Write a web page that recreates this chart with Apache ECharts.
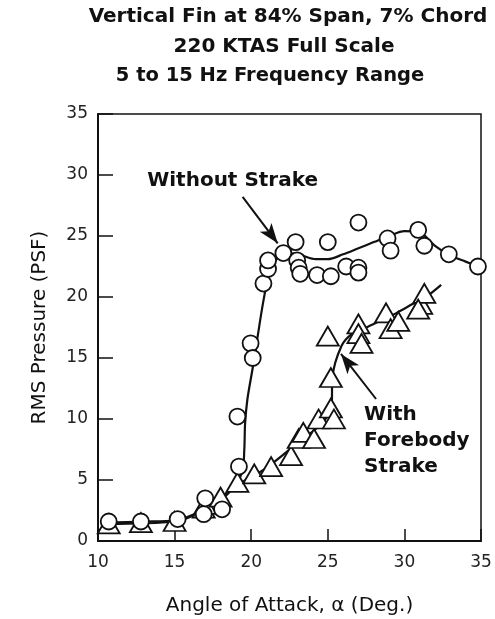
<!DOCTYPE html>
<html><head><meta charset="utf-8">
<script src="https://cdn.jsdelivr.net/npm/echarts@6/dist/echarts.min.js"></script>
<style>html,body{margin:0;padding:0;background:#fff}#c{width:495px;height:619px}</style>
</head><body><div id="c"></div>
<script>
const titleLines = ['Vertical Fin at 84% Span, 7% Chord', '220 KTAS Full Scale', '5 to 15 Hz Frequency Range'];
const xAxisName = 'Angle of Attack, \u03b1 (Deg.)';
const yAxisName = 'RMS Pressure (PSF)';
const xRange = [10, 35, 5];
const yRange = [0, 35, 5];

// Without strake: measured points (angle, RMS pressure)
const withoutStrakePts = [
  [10.7,1.6],[12.8,1.6],[15.2,1.8],[16.9,2.2],[17.0,3.5],[18.1,2.6],[19.2,6.1],[19.1,10.2],
  [19.96,16.2],[20.1,15.0],[20.8,21.1],[21.1,22.3],[21.1,23.0],[22.1,23.6],[22.9,24.5],
  [23.0,23.0],[23.1,22.4],[23.2,21.9],[24.3,21.8],[25.0,24.5],[25.2,21.7],[26.2,22.5],
  [27.0,22.4],[27.0,22.0],[27.0,26.1],[28.9,24.8],[29.1,23.8],[30.9,25.5],[31.3,24.2],
  [32.9,23.5],[34.8,22.5]
];
// Without strake: faired curve
const withoutStrakeCurve = [
  [10.5,1.5],[13,1.6],[15,1.7],[17,2.6],[18.5,3.9],[19.4,5.6],[19.55,7.5],[19.6,9.6],
  [19.75,11.6],[20.1,14.2],[20.4,16.6],[20.8,19.7],[21.2,22.0],[21.8,23.3],[22.5,23.6],
  [23.3,23.4],[24.2,23.1],[25.0,23.1],[26.0,23.5],[27.0,24.0],[28.0,24.5],[29.0,25.0],
  [30.0,25.4],[31.0,25.3],[32.0,24.2],[33.0,23.4],[34.0,22.9],[34.8,22.5]
];
// With forebody strake: measured points
const withStrakePts = [
  [10.7,1.4],[12.8,1.5],[15.0,1.6],[16.9,2.7],[17.0,3.0],[18.0,3.6],[19.1,4.8],[20.2,5.5],
  [21.3,6.1],[22.6,7.0],[23.1,8.4],[23.4,8.9],[24.1,8.4],[24.4,10.0],[25.2,10.9],[25.4,10.0],
  [25.2,13.4],[25.0,16.8],[27.0,17.8],[27.0,17.0],[27.2,16.2],[28.8,18.7],[29.1,17.4],
  [29.6,18.0],[31.1,19.4],[31.3,20.3],[30.9,19.0]
];
// With forebody strake: faired curve
const withStrakeCurve = [
  [10.5,1.4],[15,1.6],[17,2.6],[19,4.5],[21,6.0],[23,8.0],[24.5,9.5],[25.25,11.0],
  [25.3,13.4],[25.9,16.0],[26.6,17.0],[27.5,17.5],[28.5,18.1],[29.5,18.7],[30.5,19.4],[31.5,20.1],[32.4,21.0]
];
// Annotations (data coordinates)
const labelWithout = {text: 'Without Strake', at: [13.21, 29.5]};
const labelWith = {text: 'With\nForebody\nStrake', at: [27.37, 8.2]};
const arrowWithout = [[19.44, 28.2], [21.73, 24.4]];
const arrowWith = [[28.15, 11.64], [25.86, 15.33]];

const FONT = 'DejaVu Sans';
const INK = '#111';

const chart = echarts.init(document.getElementById('c'), null, {renderer: 'canvas'});
const titleTops = [7, 37, 66];
const titleLefts = [288, 284, 270];
const titleSizes = [20, 20, 19.5];
chart.setOption({
  animation: false,
  backgroundColor: '#fff',
  title: titleLines.map((t, i) => ({
    text: t, left: titleLefts[i], top: titleTops[i], textAlign: 'center', padding: 0,
    textStyle: {fontFamily: FONT, fontWeight: 'bold', fontSize: titleSizes[i], lineHeight: 20, color: INK}
  })),
  grid: {left: 98, right: 14, top: 114, bottom: 78, containLabel: false, outerBoundsMode: 'none',
    show: true, borderColor: INK, borderWidth: 1.5, backgroundColor: 'transparent'},
  xAxis: {
    type: 'value', min: xRange[0], max: xRange[1], interval: xRange[2],
    name: xAxisName, nameLocation: 'middle', nameGap: 55,
    nameTextStyle: {fontFamily: FONT, fontSize: 20, color: INK},
    axisLine: {show: true, lineStyle: {color: INK, width: 2}},
    axisTick: {show: true, inside: true, length: 12, lineStyle: {color: INK, width: 1.5}},
    axisLabel: {fontFamily: FONT, fontSize: 17, color: '#222', margin: 13},
    splitLine: {show: false}
  },
  yAxis: {
    type: 'value', min: yRange[0], max: yRange[1], interval: yRange[2],
    name: yAxisName, nameLocation: 'middle', nameGap: 48, nameRotate: 90,
    nameTextStyle: {fontFamily: FONT, fontSize: 20, color: INK},
    axisLine: {show: true, lineStyle: {color: INK, width: 2}},
    axisTick: {show: true, inside: true, length: 15, lineStyle: {color: INK, width: 1.5}},
    axisLabel: {fontFamily: FONT, fontSize: 17, color: '#222', margin: 10},
    splitLine: {show: false}
  },
  series: [
    {type: 'line', data: withoutStrakeCurve, smooth: 0.3, showSymbol: false, symbol: 'none',
     lineStyle: {color: INK, width: 2.2}, z: 2,
     markLine: {silent: true, symbol: ['none', 'arrow'], symbolSize: [11, 20], label: {show: false},
       lineStyle: {color: INK, width: 2, type: 'solid'},
       data: [[{coord: arrowWithout[0]}, {coord: arrowWithout[1]}]]}},
    {type: 'line', data: withStrakeCurve, smooth: 0.3, showSymbol: false, symbol: 'none',
     lineStyle: {color: INK, width: 2.2}, z: 2,
     markLine: {silent: true, symbol: ['none', 'arrow'], symbolSize: [11, 20], label: {show: false},
       lineStyle: {color: INK, width: 2, type: 'solid'},
       data: [[{coord: arrowWith[0]}, {coord: arrowWith[1]}]]}},
    {type: 'scatter', data: withoutStrakePts, symbol: 'circle', symbolSize: 16, z: 4,
     itemStyle: {color: '#fff', borderColor: INK, borderWidth: 1.8, opacity: 1}},
    {type: 'scatter', data: withStrakePts, symbol: 'triangle', symbolSize: [22, 19], z: 3,
     itemStyle: {color: '#fff', borderColor: INK, borderWidth: 1.8, opacity: 1},
     markPoint: {silent: true, symbol: 'circle', symbolSize: 0,
       data: [
         {coord: labelWithout.at, label: {show: true, formatter: labelWithout.text, position: 'inside', align: 'left', verticalAlign: 'middle',
           fontFamily: FONT, fontWeight: 'bold', fontSize: 20, color: INK}},
         {coord: labelWith.at, label: {show: true, formatter: labelWith.text, position: 'inside', align: 'left', verticalAlign: 'middle',
           fontFamily: FONT, fontWeight: 'bold', fontSize: 20, lineHeight: 26, color: INK}}
       ]}}
  ]
});
</script></body></html>
